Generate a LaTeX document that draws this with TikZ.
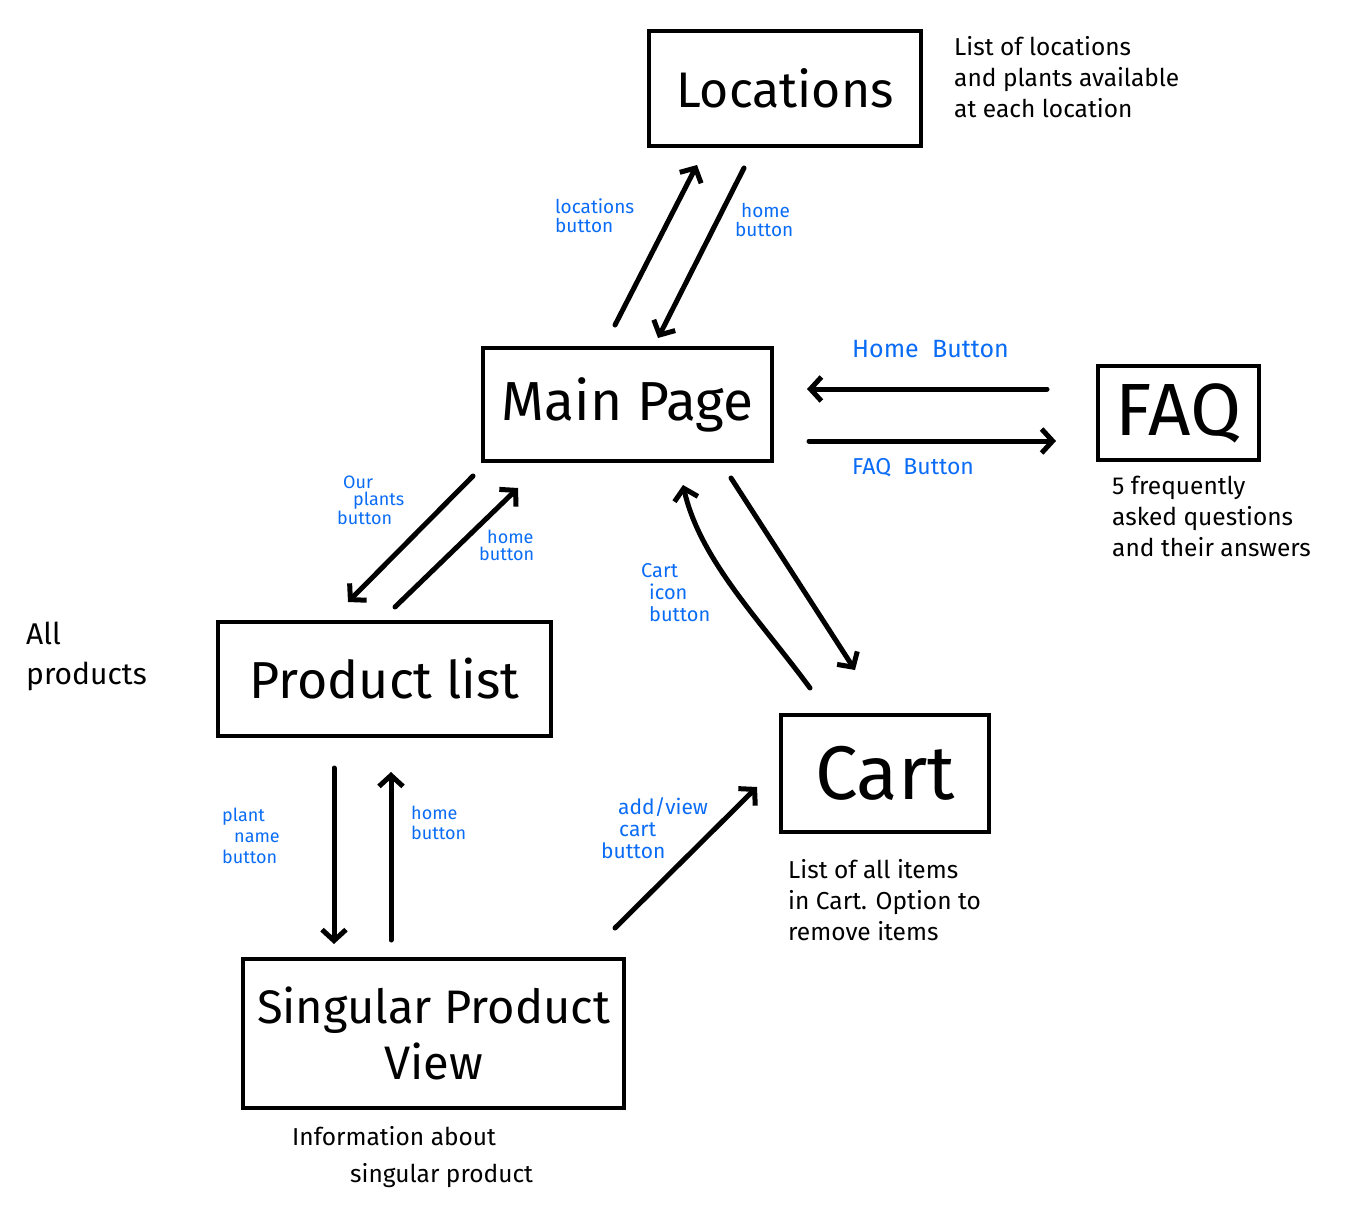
\documentclass[tikz,border=0pt]{standalone}
\usepackage{fontspec}
\setmainfont{Fira Sans}
\usetikzlibrary{arrows.meta}
\definecolor{lblue}{HTML}{0A6CF5}
\tikzset{
  pagebox/.style={draw, line width=4pt, inner sep=0pt, align=center},
  flow/.style={line width=5pt, line cap=round, -{Straight Barb[length=11pt,width=24pt,line width=5pt]}},
  lbl/.style={text=lblue, font=\fontsize{19}{19}\selectfont, align=left, inner sep=0pt},
  note/.style={font=\fontsize{24.5}{31}\selectfont, align=left, inner sep=0pt}
}
\begin{document}
\begin{tikzpicture}[x=1pt,y=-1pt]
\useasboundingbox (0,0) rectangle (1346,1220);
% pages
\node[pagebox, minimum width=272pt, minimum height=115pt, font=\fontsize{50}{50}\selectfont] (loc) at (785,88.5) {Locations};
\node[pagebox, minimum width=289pt, minimum height=113pt, font=\fontsize{55}{55}\selectfont] (main) at (627.5,404.5) {Main Page};
\node[pagebox, minimum width=161pt, minimum height=94pt, font=\fontsize{74}{74}\selectfont] (faq) at (1178.5,413) {FAQ};
\node[pagebox, minimum width=333pt, minimum height=114pt, font=\fontsize{52}{52}\selectfont] (plist) at (384.5,679) {Product list};
\node[pagebox, minimum width=208pt, minimum height=117pt, font=\fontsize{76}{76}\selectfont] (cart) at (885,773.5) {Cart};
\node[pagebox, minimum width=381pt, minimum height=149pt, font=\fontsize{47}{56}\selectfont] (spv) at (433.5,1033.5) {Singular Product\\View};
% notes
\node[note, anchor=north west] (nloc) at (954,36) {List of locations\\and plants available\\at each location};
\node[note, anchor=north west] (nfaq) at (1112,476) {5 frequently\\asked questions\\and their answers};
\node[note, anchor=north west, font=\fontsize{30}{40}\selectfont] (nall) at (26,622) {All\\products};
\node[note, anchor=north west] (ncart) at (788,859) {List of all items\\in Cart. Option to\\remove items};
\node[note, anchor=north west, font=\fontsize{24.5}{37}\selectfont] (nspv) at (292,1126) {Information about\\\hspace*{58pt}singular product};
% endpoints
\coordinate (a1s) at (615,325); \coordinate (a1e) at (697,165);
\coordinate (a2s) at (744,168); \coordinate (a2e) at (658,338);
\coordinate (a3s) at (1047,389); \coordinate (a3e) at (807,389);
\coordinate (a4s) at (809,441); \coordinate (a4e) at (1056,441);
\coordinate (a5s) at (473,476); \coordinate (a5e) at (348,602);
\coordinate (a6s) at (395,607); \coordinate (a6e) at (518,488);
\coordinate (a7s) at (810,688); \coordinate (a7e) at (683,485);
\coordinate (a8s) at (731,478); \coordinate (a8e) at (855,670);
\coordinate (a9s) at (334,768); \coordinate (a9e) at (334,944);
\coordinate (a10s) at (391,940); \coordinate (a10e) at (391,772);
\coordinate (a11s) at (615,928); \coordinate (a11e) at (757,787);
% connectors
\draw[flow] (a1s) -- (a1e);
\draw[flow] (a2s) -- (a2e);
\draw[flow] (a3s) -- (a3e);
\draw[flow] (a4s) -- (a4e);
\draw[flow] (a5s) -- (a5e);
\draw[flow] (a6s) -- (a6e);
\draw[flow] (a7s) .. controls (760,620) and (700,560) .. (a7e);
\draw[flow] (a8s) -- (a8e);
\draw[flow] (a9s) -- (a9e);
\draw[flow] (a10s) -- (a10e);
\draw[flow] (a11s) -- (a11e);
% labels
\node[lbl, anchor=north west] (l1) at (555,198) {locations\\button};
\node[lbl, anchor=north west] (l2) at (735,203) {\hspace*{6pt}home\\button};
\node[lbl, anchor=north west, font=\fontsize{25}{25}\selectfont] (l3) at (852,340) {Home \ Button};
\node[lbl, anchor=north west, font=\fontsize{23}{23}\selectfont] (l4) at (852,458) {FAQ \ Button};
\node[lbl, anchor=north west, font=\fontsize{18}{17}\selectfont] (l5) at (337,476) {\hspace*{6pt}Our\\\hspace*{16pt}plants\\button};
\node[lbl, anchor=north west, font=\fontsize{18}{17}\selectfont] (l6) at (479,530) {\hspace*{8pt}home\\button};
\node[lbl, anchor=north west, font=\fontsize{20}{22}\selectfont] (l7) at (641,563) {Cart\\\hspace*{8pt}icon\\\hspace*{8pt}button};
\node[lbl, anchor=north west, font=\fontsize{18}{21}\selectfont] (l8) at (222,808) {plant\\\hspace*{12pt}name\\button};
\node[lbl, anchor=north west, font=\fontsize{18}{20}\selectfont] (l9) at (411,806) {home\\button};
\node[lbl, anchor=north west, font=\fontsize{21}{22}\selectfont] (l10) at (601,797) {\hspace*{17pt}add/view\\\hspace*{18pt}cart\\button};
\end{tikzpicture}
\end{document}
